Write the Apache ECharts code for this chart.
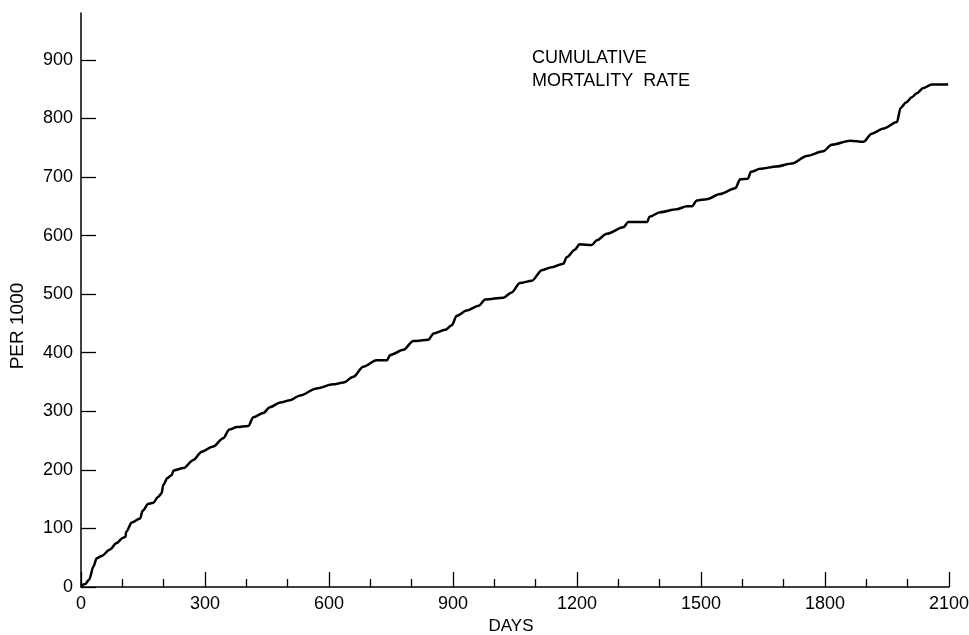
<!DOCTYPE html>
<html>
<head>
<meta charset="utf-8">
<script src="https://cdn.jsdelivr.net/npm/echarts@6/dist/echarts.min.js"></script>
<style>
  html, body { margin: 0; padding: 0; background: #fff; }
  #chart { width: 969px; height: 635px; }
</style>
</head>
<body>
<div id="chart"></div>
<script>
// days since start
const days = [0, 10, 20, 30, 38, 50, 70, 86, 102, 108, 109, 123, 143, 149, 163, 175, 187, 195, 199, 209, 219, 224,
  248, 272, 292, 320, 344, 359, 377, 405, 417, 441, 457, 482, 506, 530, 570, 610, 635, 659, 683, 715, 740,
  748, 780, 804, 840, 853, 881, 897, 909, 933, 962, 978, 1022, 1042, 1062, 1091, 1115, 1139, 1167, 1175,
  1195, 1206, 1236, 1248, 1272, 1312, 1324, 1370, 1375, 1401, 1441, 1466, 1478, 1490, 1514, 1546, 1583,
  1595, 1613, 1621, 1643, 1683, 1720, 1756, 1796, 1816, 1861, 1893, 1913, 1942, 1974, 1983, 1996, 2010,
  2022, 2038, 2058, 2098]
// cumulative mortality per 1000
const rate = [2, 5, 13, 35, 49, 53, 64, 75, 84, 86, 94, 110, 117, 130, 142, 144, 154, 160, 174, 186, 191, 199,
  203, 217, 231, 240, 254, 269, 273, 275, 290, 297, 307, 315, 319, 327, 339, 346, 349, 359, 376, 387, 387,
  396, 405, 420, 422, 433, 439, 447, 463, 472, 480, 491, 494, 503, 519, 523, 541, 546, 552, 563,
  576, 585, 584, 592, 603, 614, 623, 623, 632, 640, 645, 650, 650, 660, 662, 671, 681,
  696, 697, 709, 714, 718, 723, 736, 744, 755, 762, 760, 774, 783, 794, 818, 827, 836,
  843, 852, 858, 858]

const font = 'Liberation Sans, Arial, sans-serif'
const ink = '#000'
const chart = echarts.init(document.getElementById('chart'))

chart.setOption({
  animation: false,
  grid: { left: 81, right: 20, top: 13, bottom: 48, outerBoundsMode: 'none', containLabel: false },
  xAxis: {
    type: 'value',
    min: 0,
    max: 2100,
    interval: 300,
    axisLine: { lineStyle: { color: ink, width: 1.5 } },
    axisTick: { inside: true, length: 15, lineStyle: { color: ink, width: 1.3 } },
    minorTick: { show: true, splitNumber: 3, length: 8, lineStyle: { color: ink, width: 1.3 } },
    splitLine: { show: false },
    axisLabel: { color: ink, fontSize: 18, fontFamily: font, margin: 8, formatter: v => String(v) },
  },
  yAxis: {
    type: 'value',
    min: 0,
    max: 980,
    interval: 100,
    axisLine: { show: true, lineStyle: { color: ink, width: 1.5 } },
    axisTick: { show: true, inside: true, length: 15, lineStyle: { color: ink, width: 1.3 } },
    splitLine: { show: false },
    axisLabel: {
      color: ink,
      fontSize: 18,
      fontFamily: font,
      margin: 8,
      showMaxLabel: false,
      formatter: v => (v % 100 === 0 ? String(v) : ''),
    },
  },
  graphic: [
    {
      type: 'text', left: 532, top: 49,
      style: { text: 'CUMULATIVE', font: '18px ' + font, fill: ink },
    },
    {
      type: 'text', left: 532, top: 72,
      style: { text: 'MORTALITY  RATE', font: '18px ' + font, fill: ink },
    },
    {
      type: 'text', x: 18, y: 326, rotation: Math.PI / 2,
      style: { text: 'PER 1000', font: '19px ' + font, fill: ink, align: 'center', verticalAlign: 'middle' },
    },
    {
      type: 'text', x: 511, y: 626,
      style: { text: 'DAYS', font: '17px ' + font, fill: ink, align: 'center', verticalAlign: 'middle' },
    },
  ],
  series: [
    {
      type: 'line',
      data: days.map((d, i) => [d, rate[i]]),
      showSymbol: false,
      smooth: 0.3,
      smoothMonotone: 'x',
      lineStyle: { color: ink, width: 2.5 },
    },
  ],
})
</script>
</body>
</html>
